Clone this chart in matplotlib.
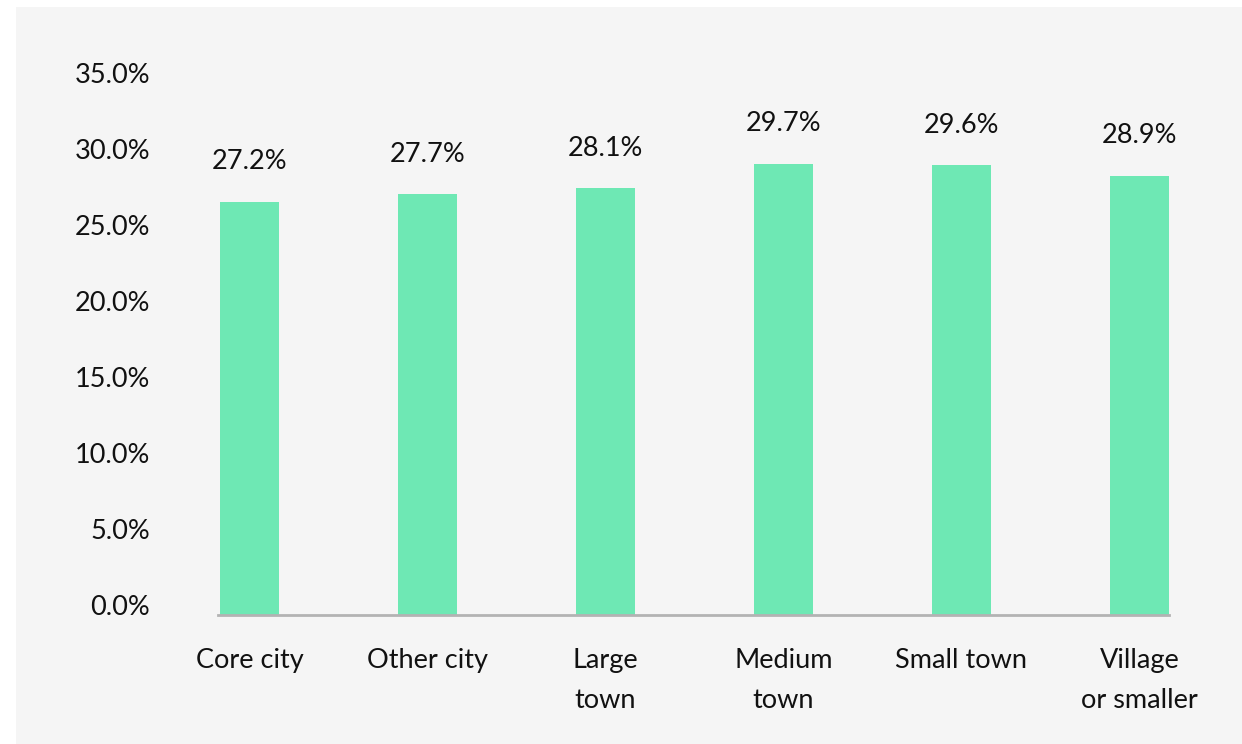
import matplotlib.pyplot as plt
from matplotlib.patches import Rectangle
from matplotlib.transforms import ScaledTranslation

categories = ['Core city', 'Other city', 'Large\ntown', 'Medium\ntown', 'Small town', 'Village\nor smaller']
shares = [27.2, 27.7, 28.1, 29.7, 29.6, 28.9]
y_ticks = [0, 5, 10, 15, 20, 25, 30, 35]

bar_color = '#6ee8b4'
plt.rcParams['font.family'] = ['Lato', 'DejaVu Sans']

fig = plt.figure(figsize=(12.42, 7.44), dpi=100, facecolor='white')
# grey panel behind the chart
fig.patches.append(Rectangle((16 / 1242, 0), 1, 1 - 7 / 744, transform=fig.transFigure,
                             facecolor='#f5f5f5', edgecolor='none', zorder=-10))

ax = fig.add_axes([218 / 1242, 1 - 615 / 744, (1169 - 218) / 1242, (615 - 83) / 744])
ax.set_facecolor('none')

x = range(len(categories))
ax.bar(x, shares, width=0.33, color=bar_color, zorder=2)
for i, v in enumerate(shares):
    ax.text(i, v + 1.8, f'{v:.1f}%', ha='center', va='bottom', fontsize=19.5, color='#111111')

ax.set_xlim(-0.177, 5.166)
ax.set_ylim(0, 35)
ax.set_yticks(y_ticks)
ax.set_yticklabels([f'{t:.1f}%' for t in y_ticks])
ax.set_xticks(list(x))
ax.set_xticklabels(categories, linespacing=1.75)

ax.tick_params(axis='y', length=0, pad=49, labelsize=19.5, labelcolor='#111111')
ax.tick_params(axis='x', length=0, pad=24, labelsize=19.5, labelcolor='#111111')
# y labels sit a little above their gridline position
shift = ScaledTranslation(0, 7 / 72, fig.dpi_scale_trans)
for lbl in ax.get_yticklabels():
    lbl.set_transform(lbl.get_transform() + shift)

for side in ['top', 'right', 'left']:
    ax.spines[side].set_visible(False)
ax.spines['bottom'].set_color('#b3b3b3')
ax.spines['bottom'].set_linewidth(2)
ax.spines['bottom'].set_zorder(3)

plt.savefig('out.png', dpi=100, facecolor=fig.get_facecolor())
